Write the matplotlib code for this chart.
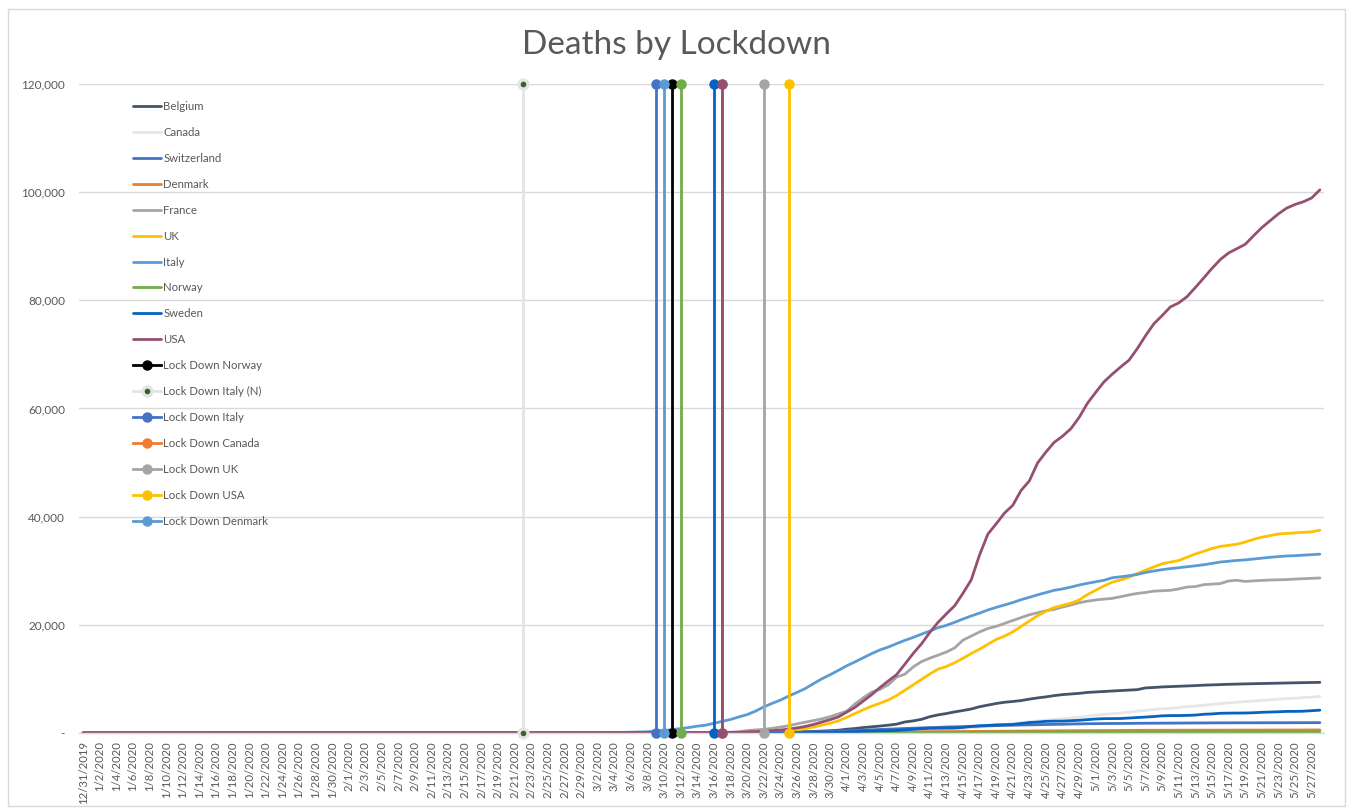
import matplotlib
matplotlib.use("Agg")
import matplotlib.pyplot as plt
from matplotlib.patches import Rectangle
import numpy as np
import pandas as pd

plt.rcParams['font.family'] = ['Lato', 'DejaVu Sans']

# ---------------- data ----------------
start_date = "2019-12-31"
n_days = 150  # 12/31/2019 .. 5/28/2020
dates = pd.date_range(start_date, periods=n_days, freq="D")
categories = [f"{d.month}/{d.day}/{d.year}" for d in dates]
tick_every = 2

# cumulative deaths, each list ends on 5/28/2020 (earlier days are 0)
belgium = [3, 3, 3, 4, 4, 5, 10, 14, 21, 37, 67, 75, 88, 122, 178, 220, 289, 353, 431, 513,
           705, 828, 1011, 1143, 1283, 1447, 1632, 2035, 2240, 2523, 3019, 3346, 3600, 3903, 4157,
           4440, 4857, 5163, 5453, 5683, 5828, 5998, 6262, 6490, 6679, 6917, 7094, 7207, 7331, 7501,
           7594, 7703, 7765, 7844, 7924, 8016, 8339, 8415, 8521, 8581, 8656, 8707, 8761, 8843, 8903,
           8959, 9005, 9052, 9080, 9108, 9150, 9186, 9212, 9237, 9280, 9312, 9334, 9364]
canada = [1, 1, 1, 1, 1, 1, 1, 4, 5, 8, 9, 12, 19, 21, 25, 26, 30, 38, 54, 61, 64, 80,
          101, 109, 139, 179, 218, 259, 339, 375, 407, 503, 557, 654, 714, 765, 820, 1010, 1048,
          1357, 1401, 1563, 1725, 1908, 2075, 2238, 2384, 2508, 2617, 2766, 2935, 3092,
          3310, 3446, 3583, 3697, 3854, 4043, 4167, 4359, 4480, 4569, 4697, 4871, 4993, 5115, 5285,
          5425, 5570, 5679, 5800, 5912, 6028, 6146, 6250, 6354, 6424, 6545, 6639, 6765]
switzerland = [1, 1, 1, 2, 2, 3, 4, 4, 11, 13, 14, 14, 27, 28, 41, 54, 75, 98, 120, 122, 153, 191,
               231, 264, 300, 359,
               433, 488, 536, 591, 666, 715, 765, 821, 895, 948, 1002, 1036, 1106, 1138, 1174, 1239,
               1281, 1327, 1368, 1393, 1429, 1478, 1509, 1549, 1589, 1599, 1610, 1665, 1699, 1716,
               1737, 1754, 1762, 1762, 1784, 1795, 1805, 1810, 1823, 1830, 1833, 1845, 1867, 1870,
               1872, 1878, 1879, 1881, 1881, 1886, 1891, 1892, 1898, 1902, 1905, 1906, 1913, 1915]
denmark = [1, 2, 3, 3, 4, 4, 6, 9, 13, 13, 24, 32, 34, 41, 52, 65, 72,
           77, 90, 104, 123, 139, 161, 179, 187, 203, 218, 237, 247, 260, 273, 285, 299, 309, 321,
           336, 346, 355, 364, 370, 384, 394, 403, 418, 422, 427, 434,
           443, 452, 460, 475, 484, 493, 503, 506, 514, 522, 526, 529, 529, 533, 537, 537, 543, 547,
           548, 551, 551, 552, 554, 561, 561, 562, 563, 563]
france = [1, 1, 1, 1, 1, 1, 1, 1, 1, 1, 1, 2, 2, 2, 2,
          2, 2, 3, 4, 4, 6, 9, 11, 19, 19, 33, 48, 48, 79, 91, 91, 148, 148, 243, 450,
          562, 674, 860, 1100, 1331, 1696, 1995, 2314, 2606, 3024, 3523,
          4032, 5387, 6507, 7560, 8078, 8911, 10328, 10869, 12210, 13197, 13832, 14393, 14967, 15729,
          17167, 17920, 18681, 19323, 19718, 20265, 20796, 21340, 21856, 22245, 22614, 22856, 23293,
          23660, 24087, 24376,
          24594, 24760, 24895, 25201, 25531, 25809, 25987, 26230, 26310, 26380, 26643, 26991, 27074,
          27425, 27529, 27625, 28108, 28239, 28022, 28132, 28215, 28289, 28332, 28367, 28460, 28530,
          28596, 28662]
uk = [1, 2, 2, 3, 4, 6, 8, 8, 8, 21, 35, 55, 71, 104, 144, 177, 233, 281, 335, 422, 600, 800, 1100,
      1450, 1800, 2250,
      2900, 3600, 4300, 4950, 5500, 6100, 6900, 7900, 8900, 9900, 10900, 11800, 12300, 13000, 13800,
      14700, 15500, 16400, 17300, 17900, 18700, 19700, 20700, 21700, 22500, 23200, 23600, 24000,
      24600, 25600,
      26400, 27200, 27900, 28300, 28800, 29500, 30100, 30700, 31300, 31600, 31900, 32500, 33100,
      33600, 34100, 34500, 34700, 34900, 35300, 35800, 36200, 36500, 36800, 36900, 37000, 37100,
      37200, 37500]
italy = [1, 2, 3, 7, 10, 12, 17, 21,
         29, 34, 52, 79, 107, 148, 197, 233, 366, 463, 631, 827, 1016, 1266, 1441, 1809, 2158, 2503,
         2978, 3405, 4032, 4825, 5476, 6077, 6820, 7503, 8215, 9134, 10023, 10779, 11591,
         12428, 13155, 13915, 14681, 15362, 15887, 16523, 17127, 17669, 18279, 18849, 19468, 19899,
         20465, 21067, 21645, 22170, 22745, 23227, 23660, 24114, 24648, 25085, 25549, 25969, 26384,
         26644, 26977, 27359, 27682,
         27967, 28236, 28710, 28884, 29079, 29315, 29684, 29958, 30201, 30395, 30560, 30739, 30911,
         31106, 31368, 31610, 31763, 31908, 32007, 32169, 32330, 32486, 32616, 32735, 32785, 32877,
         32955, 33072]
norway = [1, 1, 3, 3, 3, 3, 3, 6, 7, 7, 7, 7, 12, 14, 14, 21, 23, 32, 39,
          44, 50, 59, 62, 71, 76, 89, 101, 108, 113, 119, 128, 128, 134, 139, 150, 152, 152, 163, 165,
          181, 182, 187, 194, 199, 199, 201, 201, 201, 207,
          207, 208, 210, 211, 214, 215, 216, 217, 218, 219, 219, 224, 228, 228, 230, 232, 232, 232,
          232, 233, 233, 233, 234, 235, 235, 235, 235, 235]
sweden = [1, 1, 1, 2, 3, 6, 7, 10, 11, 16, 20, 21, 25, 36, 62, 77, 105, 105, 110, 146,
          180, 239, 308, 358, 373, 401, 477, 591, 687, 793, 870, 887, 899, 919, 1033, 1203, 1333, 1400,
          1511, 1540, 1580, 1765, 1937, 2021, 2152, 2192, 2194, 2274, 2355, 2462,
          2586, 2653, 2669, 2679, 2769, 2854, 2941, 3040, 3175, 3220, 3225, 3256, 3313, 3460, 3529,
          3646, 3674, 3679, 3698, 3743, 3831, 3871, 3925, 3992, 3998, 4029, 4125, 4220]
usa = [1, 1, 6, 7, 11, 12, 14, 17, 21, 22, 28, 36, 40, 47, 54, 63, 85, 108, 118, 200, 244, 307, 427,
       552, 706, 942, 1209, 1581, 2026, 2467, 2978,
       3873, 4757, 5926, 7087, 8407, 9619, 10783, 12722, 14695, 16478, 18586, 20463, 22020, 23529,
       25832, 28325, 32916, 36773, 38664, 40661, 42094, 44845, 46622, 49954, 51949, 53755, 54881,
       56259, 58355, 60967,
       62996, 64943, 66369, 67682, 68922, 71064, 73455, 75662, 77180, 78795, 79526, 80682, 82376,
       84119, 85898, 87530, 88754, 89562, 90347, 91921, 93439, 94702, 95979, 97048, 97720, 98220,
       98916, 100418]

country_names = ["Belgium", "Canada", "Switzerland", "Denmark", "France", "UK", "Italy",
                 "Norway", "Sweden", "USA"]
country_values = [belgium, canada, switzerland, denmark, france, uk, italy, norway, sweden, usa]
country_colors = ["#44546A", "#E7E6E6", "#4472C4", "#ED7D31", "#A5A5A5", "#FFC000", "#5B9BD5",
                  "#70AD47", "#0563C1", "#954F72"]

# lockdown markers (vertical lines from 0 to 120,000)
lockdown_names = ["Lock Down Norway", "Lock Down Italy (N)", "Lock Down Italy", "Lock Down Canada",
                  "Lock Down UK", "Lock Down USA", "Lock Down Denmark",
                  "Lock Down (8)", "Lock Down (9)", "Lock Down (10)"]
lockdown_dates = ["3/11/2020", "2/22/2020", "3/9/2020", "3/17/2020", "3/22/2020", "3/25/2020",
                  "3/10/2020", "3/12/2020", "3/16/2020", "3/17/2020"]
lockdown_low = 0
lockdown_high = 120000
lockdown_colors = ["#000000", "#E4E4E4", "#4472C4", "#ED7D31", "#A5A5A5", "#FFC000", "#5B9BD5",
                   "#70AD47", "#0563C1", "#954F72"]
n_legend_lockdowns = 7

y_ticks = [0, 20000, 40000, 60000, 80000, 100000, 120000]
y_tick_labels = ["-", "20,000", "40,000", "60,000", "80,000", "100,000", "120,000"]
title = "Deaths by Lockdown"

# ---------------- plot ----------------
W, H = 1353, 810
fig = plt.figure(figsize=(W / 100, H / 100), dpi=100)
ax = fig.add_axes([79 / W, 1 - 733 / H, (1324 - 79) / W, (733 - 84) / H])

x = np.arange(n_days)
handles = []
for name, vals, col in zip(country_names, country_values, country_colors):
    full = np.concatenate([np.zeros(n_days - len(vals)), np.array(vals, dtype=float)])
    h, = ax.plot(x, full, color=col, lw=2.0, label=name, zorder=2, solid_capstyle='round')
    handles.append(h)

cat_index = {c: i for i, c in enumerate(categories)}
for i, (name, d, col) in enumerate(zip(lockdown_names, lockdown_dates, lockdown_colors)):
    xi = cat_index[d]
    if name == "Lock Down Italy (N)":
        h, = ax.plot([xi, xi], [lockdown_low, lockdown_high], color=col, lw=2.0, marker='o',
                     ms=6.5, mfc='#3B5E2B', mec='#E4E4E4', mew=2.4, zorder=3 + i, clip_on=False,
                     label=name)
    else:
        h, = ax.plot([xi, xi], [lockdown_low, lockdown_high], color=col, lw=2.0, marker='o',
                     ms=6.5, mfc=col, mec=col, zorder=3 + i, clip_on=False, label=name)
    if i < n_legend_lockdowns:
        handles.append(h)

ax.set_xlim(-0.5, n_days - 0.5)
ax.set_ylim(0, 120000)
ax.set_yticks(y_ticks)
ax.set_yticklabels(y_tick_labels)
tick_pos = list(range(0, n_days, tick_every))
ax.set_xticks(tick_pos)
ax.set_xticklabels([categories[i] for i in tick_pos], rotation=90)

ax.tick_params(axis='y', length=0, pad=10, labelsize=8.5, labelcolor='#595959')
ax.tick_params(axis='x', length=0, pad=6, labelsize=8.2, labelcolor='#595959')
ax.yaxis.grid(True, color='#D9D9D9', lw=1.0, zorder=0)
ax.set_axisbelow(True)
for s in ['top', 'right', 'left']:
    ax.spines[s].set_visible(False)
ax.spines['bottom'].set_color('#D9D9D9')
ax.spines['bottom'].set_linewidth(1.0)

leg = ax.legend(handles=handles, labels=[h.get_label() for h in handles],
                loc='upper left', bbox_to_anchor=(133 / W, 1 - 101 / H),
                bbox_transform=fig.transFigure, frameon=False, fontsize=8.2,
                labelspacing=1.31, handlelength=2.5, handletextpad=0.15, borderpad=0,
                borderaxespad=0, labelcolor='#595959')
leg.set_zorder(20)

fig.text(676 / W, 1 - 45 / H, title, ha='center', va='center', fontsize=24, color='#595959')

fig.patches.append(Rectangle((8 / W, 1 - 806 / H), (1345 - 8) / W, (806 - 9) / H,
                             transform=fig.transFigure, fill=False, ec='#D9D9D9', lw=1.0))

fig.savefig("out.png", dpi=100)
